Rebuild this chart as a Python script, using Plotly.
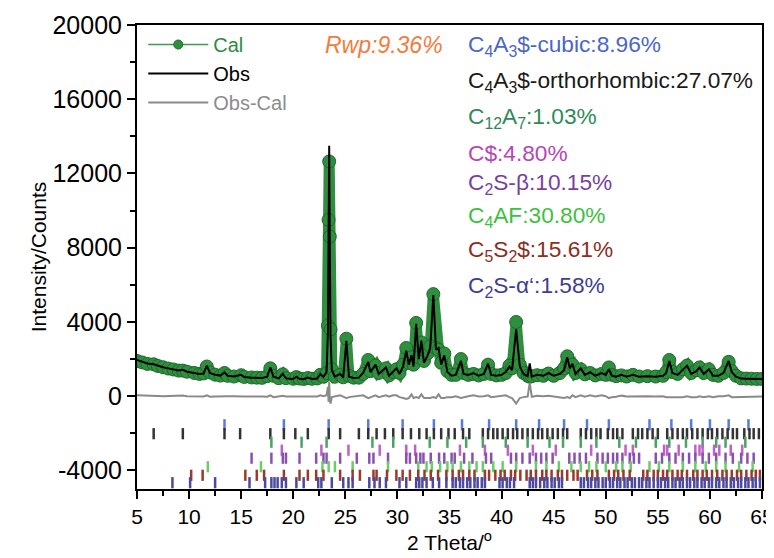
import plotly.graph_objects as go

# ---------------- data ----------------
two_theta = [
    5.0, 5.5, 6.0, 6.6, 7.0, 7.5, 8.0, 8.5, 9.0, 9.4,
    9.8, 10.5, 11.0, 11.4, 11.7, 12.0, 12.5, 13.0, 13.4, 13.7,
    14.3, 15.0, 15.3, 16.0, 16.5, 17.0, 17.5, 17.8, 18.1, 18.6,
    19.0, 19.3, 20.0, 20.3, 20.6, 21.0, 21.4, 21.8, 22.3, 22.6,
    22.9, 23.2, 23.33, 23.39, 23.45, 23.51, 23.58, 23.7, 24.0, 24.5,
    24.8, 25.1, 25.35, 25.8, 26.3, 26.7, 27.2, 27.4, 27.9, 28.2,
    28.9, 29.2, 29.6, 29.9, 30.2, 30.55, 30.85, 31.1, 31.35, 31.55,
    31.8, 32.05, 32.3, 32.55, 32.9, 33.15, 33.45, 33.7, 33.95, 34.2,
    34.5, 34.8, 35.2, 35.6, 36.1, 36.35, 36.8, 37.3, 37.8, 38.3,
    38.7, 39.0, 39.5, 40.0, 40.4, 40.75, 41.0, 41.4, 41.75, 42.1,
    42.5, 42.7, 42.9, 43.4, 44.0, 44.5, 45.0, 45.6, 46.0, 46.3,
    46.55, 46.8, 47.1, 47.6, 48.0, 48.5, 49.0, 49.6, 50.0, 50.3,
    50.6, 51.0, 51.5, 52.0, 52.6, 53.2, 54.0, 54.8, 55.5, 55.8,
    56.1, 56.4, 56.9, 57.4, 57.8, 58.2, 58.7, 59.0, 59.4, 59.9,
    60.3, 60.8, 61.3, 61.8, 62.1, 62.5, 63.0, 63.5, 64.0, 64.5,
    65.0,
]
obs = [
    1950, 1850, 1760, 1720, 1640, 1560, 1500, 1440, 1390, 1420,
    1320, 1250, 1200, 1220, 1650, 1250, 1150, 1110, 1280, 1100,
    1060, 1150, 1030, 1000, 1000, 980, 1050, 1550, 1050, 960,
    1200, 960, 930, 1050, 940, 920, 1000, 930, 950, 1200,
    1050, 1300, 3500, 9000, 13500, 8000, 3200, 1400, 1050, 1200,
    1000, 2990, 1050, 980, 1000, 1250, 1850, 1300, 1700, 1200,
    1550, 1100, 1350, 1500, 1200, 1600, 2450, 1700, 2200, 1600,
    3900, 2000, 3000, 1800, 2200, 2600, 5450, 2500, 2600, 1700,
    2200, 1300, 1100, 1150, 1900, 1200, 1150, 1250, 1100, 1200,
    1750, 1150, 1100, 1150, 1300, 1600, 1400, 3600, 1600, 1200,
    1080, 1760, 1050, 1150, 1100, 1250, 1100, 1200, 1400, 2100,
    1500, 1750, 1200, 1500, 1150, 1300, 1100, 1250, 1150, 1450,
    1100, 1050, 1150, 1050, 1150, 1050, 1080, 1050, 1100, 1250,
    1900, 1250, 1150, 1400, 1650, 1200, 1350, 1550, 1200, 1450,
    1100, 1100, 1250, 1900, 1300, 1050, 950, 940, 930, 920,
    920,
]
cal = [
    1900, 1820, 1740, 1720, 1630, 1560, 1490, 1440, 1380, 1380,
    1320, 1250, 1200, 1230, 1600, 1280, 1160, 1110, 1250, 1100,
    1060, 1130, 1040, 1010, 1000, 990, 1080, 1500, 1100, 970,
    1180, 970, 940, 1030, 950, 930, 980, 940, 960, 1150,
    1050, 1250, 3800, 9500, 12650, 8600, 3600, 1450, 1050, 1150,
    1020, 3100, 1100, 1000, 1000, 1200, 1950, 1350, 1650, 1250,
    1500, 1120, 1300, 1450, 1250, 1700, 2600, 1800, 2100, 1700,
    3950, 2100, 2900, 1900, 2300, 2700, 5500, 2600, 2500, 1800,
    2300, 1350, 1150, 1150, 2000, 1250, 1150, 1200, 1120, 1200,
    1700, 1200, 1120, 1150, 1250, 1650, 1500, 4000, 1700, 1250,
    1100, 1050, 1080, 1130, 1100, 1220, 1100, 1250, 1500, 2150,
    1600, 1700, 1250, 1450, 1180, 1250, 1120, 1200, 1150, 1550,
    1150, 1080, 1120, 1060, 1150, 1060, 1080, 1060, 1100, 1300,
    1950, 1300, 1200, 1450, 1650, 1250, 1400, 1550, 1250, 1450,
    1150, 1100, 1250, 1850, 1350, 1100, 960, 950, 940, 930,
    930,
]
obs_minus_cal = [
    50, 30, 20, 0, 10, 0, 10, 0, 10, 40,
    0, 0, 0, -10, 50, -30, -10, 0, 30, 0,
    0, 20, -10, -10, 0, -10, -30, 50, -50, -10,
    20, -10, -10, 20, -10, -10, 20, -10, -10, 50,
    0, 50, 500, -300, 800, -250, -400, -50, 0, 50,
    -20, -110, -50, -20, 0, 50, -100, -50, 50, -50,
    50, -20, 50, 50, -50, -100, -150, -100, 100, -100,
    -50, -100, 100, -100, -100, -100, -50, -100, 100, -100,
    -100, -50, -50, 0, -100, -50, 0, 50, -20, 0,
    50, -50, -20, 0, 50, -50, -100, -400, -100, -50,
    -20, 710, -30, 20, 0, 30, 0, -50, -100, -50,
    -100, 50, -50, 50, -30, 50, -20, 50, 0, -100,
    -50, -30, 30, -10, 0, -10, 0, -10, 0, -50,
    -50, -50, -50, -50, 0, -50, -50, 0, -50, 0,
    -50, 0, 0, 50, -50, -50, -10, -10, -10, -10,
    -10,
]

# reflection positions (2 theta) for each phase
pos_c4a3s_cubic = [13.4, 19.1, 23.4, 27.2, 30.5, 33.5, 36.2, 38.8, 41.4, 43.6,
                   46.0, 48.2, 50.3, 54.2, 56.3, 58.2, 60.0, 61.8, 63.7]
pos_c4a3s_ortho = [6.6, 9.4, 13.4, 14.9, 17.8, 19.1, 20.2, 21.4, 23.4, 24.5,
                   26.3, 27.2, 28.0, 28.8, 29.6, 30.5, 31.3, 32.1, 32.8, 33.5,
                   34.2, 34.9, 35.5, 36.3, 36.9, 38.2, 38.7, 39.2, 39.6, 40.1,
                   40.6, 41.1, 41.5, 42.0, 42.5, 43.0, 43.5, 43.9, 44.4, 44.9,
                   45.4, 45.9, 46.3, 47.6, 48.1, 48.6, 49.1, 49.5, 50.2, 50.7,
                   51.1, 51.6, 52.6, 53.1, 53.5, 54.0, 54.5, 55.0, 55.9, 56.4,
                   56.9, 57.4, 57.8, 58.3, 58.8, 59.3, 59.8, 60.2, 60.7, 61.2,
                   61.7, 62.2, 62.6, 63.3, 63.8, 64.2, 64.7]
pos_c12a7 = [17.9, 20.8, 23.2, 27.6, 29.6, 33.1, 34.8, 36.6, 38.2, 40.4,
             42.5, 44.6, 45.9, 47.6, 49.1, 51.3, 52.9, 54.8, 56.1, 57.7,
             59.3, 60.6, 61.5, 63.4]
pos_cs = [18.9, 22.7, 25.3, 28.3, 30.85, 31.7, 36.0, 38.4, 40.6, 43.0,
          45.2, 48.6, 51.9, 52.6, 55.6, 55.9, 57.0, 58.6, 59.0, 59.3,
          60.4, 60.9, 62.0, 63.1]
pos_c2s_beta = [16.0, 17.9, 19.0, 19.3, 20.6, 22.2, 22.9, 23.2, 24.5, 26.1,
                27.3, 27.7, 29.1, 30.85, 31.2, 31.8, 32.2, 32.5, 33.2, 34.0,
                34.5, 35.2, 35.5, 36.4, 37.2, 38.5, 39.0, 40.9, 41.4, 42.0,
                42.7, 43.3, 43.8, 44.3, 44.9, 46.5, 47.0, 47.5, 48.1, 49.2,
                49.7, 50.2, 50.7, 51.1, 51.6, 52.3, 52.7, 53.2, 54.8, 55.4,
                56.1, 56.7, 57.4, 58.0, 58.6, 59.3, 59.9, 60.6, 61.5, 62.2,
                63.0, 63.6, 64.2]
pos_c4af = [11.8, 16.9, 22.8, 23.4, 24.0, 25.7, 29.1, 32.0, 32.8, 33.3,
            34.1, 34.8, 35.3, 36.1, 36.9, 37.6, 38.2, 39.2, 40.1, 41.4,
            43.3, 44.3, 45.5, 46.7, 47.6, 48.4, 49.1, 50.0, 51.0, 51.6,
            52.4, 54.2, 55.1, 56.1, 57.4, 58.6, 59.6, 60.6, 61.5, 62.8, 64.1]
pos_c5s2s = [10.2, 11.3, 15.4, 16.5, 17.2, 19.1, 20.6, 21.4, 22.2, 22.9,
             24.5, 25.7, 26.4, 27.7, 28.0, 29.0, 29.9, 30.5, 31.2, 32.0,
             32.6, 33.2, 33.9, 34.7, 35.3, 35.9, 36.3, 36.9, 37.4, 38.4,
             38.8, 39.4, 39.9, 40.3, 40.9, 41.3, 41.8, 42.4, 42.8, 43.3,
             43.9, 44.3, 44.8, 45.4, 45.8, 46.3, 46.9, 47.3, 48.2, 48.7,
             49.2, 50.3, 50.8, 51.2, 51.7, 52.3, 53.6, 54.0, 54.6, 55.0,
             55.5, 55.9, 56.4, 56.9, 57.3, 57.8, 58.4, 58.8, 59.3, 59.7,
             60.2, 60.7, 61.2, 61.6, 62.1, 62.6, 63.0, 63.5, 64.0, 64.4, 64.8]
pos_c2s_alpha = [8.4, 10.1, 12.5, 15.8, 17.3, 17.9, 18.2, 18.5, 18.9, 19.3,
                 20.3, 21.0, 22.4, 22.7, 23.7, 24.8, 25.3, 25.7, 27.3, 27.8,
                 28.3, 28.9, 30.2, 30.85, 31.8, 32.1, 32.4, 32.8, 33.4, 34.0,
                 34.7, 35.3, 35.6, 36.0, 36.3, 36.7, 37.0, 37.4, 37.7, 38.1,
                 38.4, 39.8, 40.1, 40.5, 40.8, 41.2, 42.7, 43.0, 43.3, 43.7,
                 44.1, 44.4, 44.8, 45.1, 45.5, 45.8, 47.6, 47.9, 48.3, 48.6,
                 49.0, 49.3, 49.7, 50.0, 50.4, 50.7, 51.1, 51.4, 51.8, 52.1,
                 52.5, 52.8, 53.2, 53.5, 53.9, 54.2, 54.6, 55.0, 55.3, 55.7,
                 56.0, 56.4, 56.7, 57.1, 57.4, 57.8, 58.1, 58.5, 58.8, 59.2,
                 59.5, 59.9, 60.2, 60.6, 60.9, 61.3, 61.6, 62.0, 62.3, 62.7,
                 63.0, 63.4, 63.7, 64.1, 64.4, 64.8]

phase_labels = [
    "C<sub>4</sub>A<sub>3</sub>$-cubic:8.96%",
    "C<sub>4</sub>A<sub>3</sub>$-orthorhombic:27.07%",
    "C<sub>12</sub>A<sub>7</sub>:1.03%",
    "C$:4.80%",
    "C<sub>2</sub>S-β:10.15%",
    "C<sub>4</sub>AF:30.80%",
    "C<sub>5</sub>S<sub>2</sub>$:15.61%",
    "C<sub>2</sub>S-α‘:1.58%",
]
rwp_label = "Rwp:9.36%"
y_ticks = [20000, 16000, 12000, 8000, 4000, 0, -4000]
y_tick_text = ["20000", "16000", "12000", "8000", "4000", "0", "-4000"]
x_ticks = [5, 10, 15, 20, 25, 30, 35, 40, 45, 50, 55, 60, 65]

# ---------------- styling ----------------
FONT = "Liberation Sans, Arial, sans-serif"
phase_colors = ["#4a66c8", "#1a1a1a", "#2e8b57", "#b845b8",
                "#7a3fa0", "#40bf40", "#8b2e1e", "#3e3e90"]
tick_colors = ["#5a7ad8", "#333333", "#4aa266", "#c060c8",
               "#8a50b0", "#66d066", "#9a3a2a", "#4a4aa0"]
tick_rows = [pos_c4a3s_cubic, pos_c4a3s_ortho, pos_c12a7, pos_cs,
             pos_c2s_beta, pos_c4af, pos_c5s2s, pos_c2s_alpha]
row_levels = [-1540, -2020, -2480, -2910, -3340, -3800, -4260, -4660]

CAL_GREEN = "#2f8f3f"
CAL_EDGE = "#1d6a2b"

fig = go.Figure()

# Cal band (dense markers in the original)
fig.add_trace(go.Scatter(
    x=two_theta, y=cal, mode="lines+markers",
    line=dict(color=CAL_GREEN, width=11),
    marker=dict(size=13, color=CAL_GREEN, line=dict(color=CAL_EDGE, width=1)),
    showlegend=False, hoverinfo="skip"))

# legend-only entry for Cal
fig.add_trace(go.Scatter(
    x=[None], y=[None], mode="lines+markers",
    name='<span style="color:#2e8b3e">Cal</span>',
    line=dict(color="#3c9a4c", width=1.5),
    marker=dict(size=9, color=CAL_GREEN, line=dict(color=CAL_EDGE, width=1))))

fig.add_trace(go.Scatter(
    x=two_theta, y=obs, mode="lines", name="Obs",
    line=dict(color="#000000", width=2)))

fig.add_trace(go.Scatter(
    x=two_theta, y=obs_minus_cal, mode="lines",
    name='<span style="color:#8c8c8c">Obs-Cal</span>',
    line=dict(color="#8a8a8a", width=2)))

for positions, level, col in zip(tick_rows, row_levels, tick_colors):
    fig.add_trace(go.Scatter(
        x=positions, y=[level] * len(positions), mode="markers",
        marker=dict(symbol="line-ns", size=8, line=dict(color=col, width=2.5)),
        showlegend=False, hoverinfo="skip"))

# annotations (positions in plot-area fractions)
fig.add_annotation(x=0.297, y=0.957, xref="paper", yref="paper",
                   text="<i>" + rwp_label + "</i>", showarrow=False,
                   xanchor="left", yanchor="middle",
                   font=dict(family=FONT, size=23, color="#f47b3b"))
label_y_px = [45, 81, 117, 153, 183, 216, 251, 286]
for txt, ypx, col in zip(phase_labels, label_y_px, phase_colors):
    fig.add_annotation(x=0.527, y=(489 - ypx) / 464, xref="paper", yref="paper",
                       text=txt, showarrow=False, xanchor="left", yanchor="middle",
                       font=dict(family=FONT, size=22.7, color=col))

# The page adds an 8 px body margin, so the figure is 8 px smaller and
# margins are offset to land the plot area where the reference has it.
fig.update_layout(
    width=766, height=550,
    margin=dict(l=129, r=12, t=17, b=69, autoexpand=False),
    paper_bgcolor="white", plot_bgcolor="white",
    font=dict(family=FONT, size=22, color="black"),
    showlegend=True,
    legend=dict(x=0.01, y=1.0, xanchor="left", yanchor="top",
                bgcolor="rgba(0,0,0,0)", font=dict(family=FONT, size=20, color="black"),
                itemwidth=60, tracegroupgap=0),
    xaxis=dict(range=[5, 65], tickmode="array", tickvals=x_ticks, automargin=False,
               ticklabeloverflow="allow",
               ticks="outside", ticklen=8, tickwidth=2, tickcolor="black",
               showline=True, linecolor="black", linewidth=2, mirror=True,
               showgrid=False, zeroline=False,
               minor=dict(tickmode="array",
                          tickvals=[7.5, 12.5, 17.5, 22.5, 27.5, 32.5, 37.5,
                                    42.5, 47.5, 52.5, 57.5, 62.5],
                          ticks="outside", ticklen=5, tickwidth=2, tickcolor="black"),
               tickfont=dict(family=FONT, size=21),
               title=dict(text="2 Theta/<sup>o</sup>", font=dict(family=FONT, size=21),
                          standoff=8)),
    yaxis=dict(range=[-5000, 20000], tickmode="array", tickvals=y_ticks,
               ticktext=y_tick_text, automargin=False,
               ticklabeloverflow="allow",
               ticks="outside", ticklen=8, tickwidth=2, tickcolor="black",
               showline=True, linecolor="black", linewidth=2, mirror=True,
               showgrid=False, zeroline=False,
               minor=dict(tickmode="array",
                          tickvals=[18000, 14000, 10000, 6000, 2000, -2000],
                          ticks="outside", ticklen=5, tickwidth=2, tickcolor="black"),
               tickfont=dict(family=FONT, size=25),
               title=dict(text="Intensity/Counts", font=dict(family=FONT, size=21),
                          standoff=0)),
)

fig.write_html("out.html")
